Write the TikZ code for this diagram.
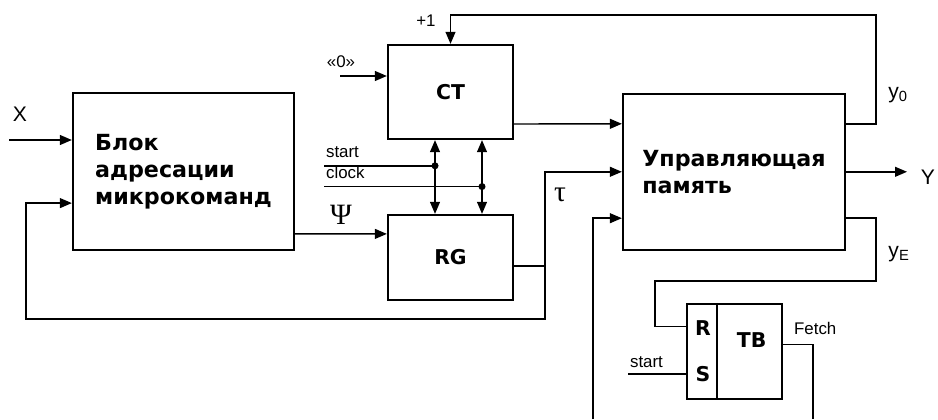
\documentclass[tikz,border=0pt]{standalone}
\usepackage{fontspec}
\setmainfont{Liberation Sans}
\newfontfamily\blockfont{DejaVu Sans}
\newfontfamily\greekfont{Liberation Serif}
\usetikzlibrary{arrows.meta}

\begin{document}
\begin{tikzpicture}[>={Triangle[length=8.5pt,width=7pt]},line width=1pt,
  txt/.style={inner sep=0pt,font=\blockfont\bfseries\fontsize{15.8}{19.2}\selectfont,align=left},
  blk/.style={txt,draw,line width=1.6pt},
  sml/.style={font=\blockfont\bfseries\fontsize{14.5}{17}\selectfont},
  lbl/.style={font=\fontsize{12}{14}\selectfont,inner sep=1pt},
  big/.style={font=\fontsize{15}{18}\selectfont,inner sep=1pt},
  grk/.style={font=\greekfont\fontsize{21}{24}\selectfont,inner sep=1pt}]
\useasboundingbox (0,0) rectangle (23.45,10.475);
% blocks
\node[blk,minimum width=5.525cm,minimum height=3.925cm] (adr) at (4.5875,6.1875) {Блок\\адресации\\микрокоманд};
\node[blk,sml,minimum width=3.125cm,minimum height=2.35cm] (ct) at (11.2625,8.175) {CT};
\node[blk,sml,minimum width=3.125cm,minimum height=2.125cm] (rg) at (11.2625,4.0375) {RG};
\node[blk,minimum width=5.55cm,minimum height=3.9cm] (up) at (18.35,6.18) {Управляющая\\память};
\node[blk,minimum size=2.375cm] (tb) at (18.3625,1.6875) {};
\draw ([xshift=7.8mm]tb.north west) -- ([xshift=7.8mm]tb.south west);
\node[txt,sml] (r) at (17.575,2.275) {R};
\node[txt,sml] (s) at (17.575,1.125) {S};
\node[txt,sml] (tbl) at (18.79,1.975) {TB};
% points
\coordinate (xin) at (0.225,6.975);
\coordinate (fbl) at (0.65,2.5);
\coordinate (tj) at (13.625,3.83);
\coordinate (zin) at (8.5,8.575);
\coordinate (topr) at (21.9,10.1);
\coordinate (yout) at (22.675,6.18);
\coordinate (ye) at (21.9,3.45);
\coordinate (rin) at (16.375,2.31);
\coordinate (b1) at (14.825,0);
\coordinate (b2) at (20.325,0);
\coordinate (st) at (8.1,6.33);
\coordinate (sd) at (10.875,6.33);
\coordinate (cl) at (8.1,5.81);
\coordinate (cd) at (12.05,5.81);
\coordinate (sin) at (15.7,1.125);
% connections
\draw[->] (xin) -- (adr.west |- xin);
\draw[<->] ([yshift=-7.9mm]adr.west) -| (fbl) -| (tj |- up.west) -- (up.west);
\draw (rg.east |- tj) -- (tj);
\draw[->] ([yshift=-15.6mm]adr.east) -- ([yshift=5.9mm]rg.west);
\draw[->] (zin) -- (ct.west |- zin);
\draw[->] ([yshift=-8mm]ct.east) -- ([yshift=12mm]up.west);
\draw[->] ([yshift=12mm]up.east) -| (topr) -| (ct.north);
\draw[->] (up.east) -- (yout);
\draw ([yshift=-11.6mm]up.east) -| (ye) -| (rin) -- (tb.west |- rin);
\draw[->] (b1) |- ([yshift=-11.6mm]up.west);
\draw (st) -- (sd);
\draw (cl) -- (cd);
\draw[<->] (ct.south -| sd) -- (rg.north -| sd);
\draw[<->] (ct.south -| cd) -- (rg.north -| cd);
\fill (sd) circle (2.5pt);
\fill (cd) circle (2.5pt);
\draw (sin) -- (tb.west |- sin);
\draw ([yshift=1.8mm]tb.east) -| (b2);
% labels
\node[big] at (0.5,7.61) {X};
\node[big] at (23.2,6.05) {Y};
\node[lbl] at (8.525,8.925) {«0»};
\node[lbl] at (10.65,9.95) {+1};
\node[lbl,anchor=west] at (8.1,6.68) {start};
\node[lbl,anchor=west] at (8.1,6.17) {clock};
\node[lbl,anchor=west] at (15.7,1.41) {start};
\node[lbl,anchor=west] at (19.8,2.275) {Fetch};
\node[big] at (22.45,8.1) {y\textsubscript{0}};
\node[big] at (22.475,4.125) {y\textsubscript{E}};
\node[grk] at (14.0,5.6) {τ};
\node[grk] at (8.525,5.1) {Ψ};
\end{tikzpicture}
\end{document}
